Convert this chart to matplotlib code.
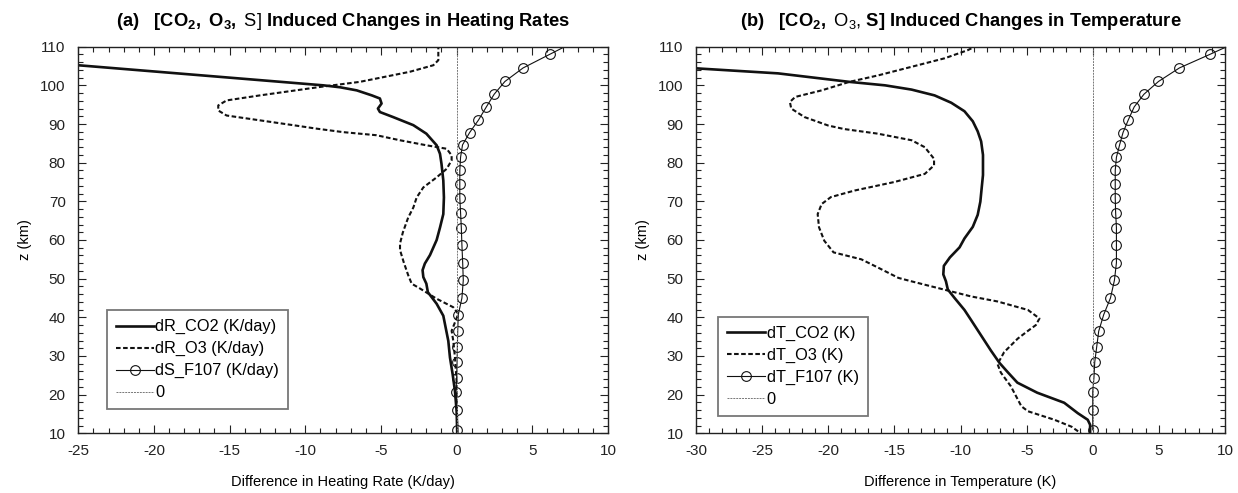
import matplotlib
matplotlib.use("Agg")
import matplotlib.pyplot as plt
from matplotlib.ticker import MultipleLocator

plt.rcParams["font.family"] = ["Liberation Sans", "DejaVu Sans"]
plt.rcParams["mathtext.fontset"] = "custom"
plt.rcParams["mathtext.rm"] = "Liberation Sans"
plt.rcParams["mathtext.bf"] = "Liberation Sans:bold"
plt.rcParams["mathtext.it"] = "Liberation Sans:italic"
plt.rcParams["axes.unicode_minus"] = False

# F10.7 solar term, sampled on model levels (km)
z_f107 = [111.5, 108.0, 104.5, 101.0, 97.7, 94.4, 91.0, 87.8, 84.6, 81.4, 78.0, 74.5, 70.9,
          67.1, 63.2, 58.6, 54.1, 49.6, 45.0, 40.7, 36.4, 32.4, 28.4, 24.4, 20.8, 15.9, 10.9]
dS_f107 = [7.9, 6.14, 4.39, 3.19, 2.48, 1.96, 1.44, 0.86, 0.39, 0.26, 0.21, 0.21, 0.21,
           0.26, 0.31, 0.35, 0.40, 0.44, 0.35, 0.11, 0.07, 0.05, 0.03, 0.0, -0.04, 0.0, 0.0]
dT_f107 = [11.1, 8.85, 6.55, 4.97, 3.87, 3.13, 2.68, 2.29, 2.03, 1.79, 1.70, 1.70, 1.70,
           1.73, 1.79, 1.79, 1.79, 1.64, 1.34, 0.83, 0.45, 0.30, 0.15, 0.09, 0.0, 0.0, 0.0]

# heating rate change from CO2 (K/day)
z_rco2 = [105.8, 105.2, 100.0, 99.5, 98.7, 97.4, 96.6, 95.3, 94.0, 93.1, 91.8, 89.7, 87.5,
          84.5, 82.3, 79.7, 75.4, 71.0, 66.7, 63.2, 60.0, 56.1, 53.9, 52.2, 50.4, 48.7, 46.5,
          43.5, 40.4, 33.9, 29.6, 25.2, 20.9, 15.7, 10.0]
dR_co2 = [-27.0, -25.0, -8.8, -7.7, -6.6, -5.6, -5.07, -4.96, -5.2, -5.07, -4.2, -2.86, -2.0,
          -1.32, -1.1, -1.0, -0.88, -0.84, -0.88, -1.1, -1.32, -1.76, -2.1, -2.25, -2.2, -2.0, -1.9,
          -1.32, -0.88, -0.55, -0.44, -0.26, -0.11, 0.0, 0.04]

# heating rate change from O3 (K/day)
z_ro3 = [110.5, 106.5, 105.2, 103.5, 100.9, 99.6, 97.4, 96.1, 94.8, 93.5, 92.2, 90.95, 89.7,
         88.8, 87.9, 87.1, 85.8, 84.5, 83.6, 81.9, 80.6, 78.4, 76.2, 73.6, 71.0, 68.4, 65.8,
         62.0, 59.1, 57.4, 54.3, 50.9, 48.7, 47.4, 44.8, 42.6, 40.9, 38.7, 36.5, 33.9, 29.6,
         23.5, 10.0]
dR_o3 = [-1.21, -1.21, -1.54, -3.1, -6.4, -9.0, -13.0, -15.2, -15.75, -15.75, -15.2, -13.0, -10.8,
         -9.25, -7.5, -5.3, -3.75, -2.0, -0.66, -0.33, -0.33, -0.66, -1.32, -2.2, -2.64, -2.86, -3.2,
         -3.55, -3.74, -3.74, -3.5, -3.2, -2.97, -2.4, -1.32, -0.22, 0.11, -0.11, -0.33, -0.22, -0.11,
         0.0, 0.04]

# temperature change from CO2 (K)
z_tco2 = [104.6, 104.4, 103.1, 100.9, 100.0, 98.9, 97.4, 95.5, 93.3, 90.7, 88.1, 85.5, 82.0,
          76.8, 73.4, 69.9, 66.5, 63.4, 60.4, 58.1, 55.5, 53.3, 51.1, 49.3, 47.2, 45.0, 41.9,
          39.3, 35.3, 31.4, 28.2, 25.7, 23.1, 20.5, 17.9, 15.2, 13.5, 12.2, 10.0]
dT_co2 = [-31.0, -30.0, -23.8, -18.4, -15.7, -13.7, -11.96, -10.7, -9.7, -9.07, -8.7, -8.44, -8.3,
          -8.3, -8.4, -8.5, -8.7, -9.07, -9.7, -10.07, -10.8, -11.26, -11.3, -11.1, -10.96, -10.45, -9.7,
          -9.2, -8.44, -7.7, -7.05, -6.4, -5.7, -4.2, -2.16, -1.13, -0.38, -0.2, -0.2]

# temperature change from O3 (K)
z_to3 = [110.4, 109.1, 107.0, 104.8, 102.6, 100.9, 98.7, 97.0, 95.7, 94.0, 91.8, 89.6, 88.7,
         87.5, 85.8, 84.0, 81.0, 79.3, 77.1, 75.0, 72.8, 71.1, 69.3, 66.7, 63.3, 59.8, 56.8,
         55.0, 52.8, 50.2, 49.3, 48.0, 46.7, 45.4, 44.1, 41.9, 39.7, 38.0, 36.5, 34.5, 31.0,
         27.9, 25.7, 22.2, 17.0, 15.7, 13.5, 11.7, 10.0]
dT_o3 = [-8.7, -9.45, -11.2, -13.7, -16.2, -18.4, -20.5, -22.5, -22.9, -22.8, -21.8, -20.0, -18.8,
         -16.25, -13.7, -12.7, -12.0, -12.0, -12.7, -15.0, -18.0, -19.8, -20.5, -20.8, -20.7, -20.3, -19.6,
         -17.5, -16.2, -14.7, -13.7, -12.2, -10.7, -9.2, -7.2, -4.9, -4.03, -4.3, -4.9, -5.67, -6.7,
         -7.2, -6.95, -6.2, -5.4, -4.9, -2.9, -1.6, -0.9]

fig = plt.figure(figsize=(12.38, 4.93), dpi=100)
ax1 = fig.add_axes([0.0632, 0.1211, 0.4279, 0.7842])
ax2 = fig.add_axes([0.5622, 0.1211, 0.4273, 0.7842])

solid = dict(color="#111111", lw=1.9)
dashed = dict(color="#111111", lw=1.5, linestyle=(0, (2.2, 1.2)))
circ = dict(color="#111111", lw=0.8, marker="o", markersize=7, mfc="none", mew=0.8)
zero = dict(color="#777777", lw=0.7, linestyle=(0, (2, 1)))


def setup(ax, xmin, xmax, xlabel):
    ax.set_xlim(xmin, xmax)
    ax.set_ylim(10, 110)
    ax.xaxis.set_major_locator(MultipleLocator(5))
    ax.xaxis.set_minor_locator(MultipleLocator(1))
    ax.yaxis.set_major_locator(MultipleLocator(10))
    ax.yaxis.set_minor_locator(MultipleLocator(2))
    ax.tick_params(which="both", direction="in", top=True, right=True,
                   labelsize=11, width=0.8, colors="#222222")
    ax.tick_params(which="major", length=6)
    ax.tick_params(which="minor", length=3.5)
    ax.tick_params(axis="x", which="major", pad=8)
    ax.tick_params(axis="y", which="major", pad=9)
    for s in ax.spines.values():
        s.set_linewidth(1.0)
        s.set_color("#222222")
    ax.set_xlabel(xlabel, fontsize=10.5, labelpad=12)
    ax.set_ylabel("z (km)", fontsize=10.5, labelpad=6)


# (a) heating rates
ax1.plot(dR_co2, z_rco2, label="dR_CO2 (K/day)", **solid)
ax1.plot(dR_o3, z_ro3, label="dR_O3 (K/day)", **dashed)
ax1.plot(dS_f107, z_f107, label="dS_F107 (K/day)", **circ)
ax1.axvline(0, label="0", **zero)
setup(ax1, -25, 10, "Difference in Heating Rate (K/day)")
ax1.set_title(r"$\mathbf{(a)\ \ \ [CO_2,\ O_3,}$ S] $\mathbf{Induced\ Changes\ in\ Heating\ Rates}$",
              fontsize=13.2, pad=15)

# (b) temperature
ax2.plot(dT_co2, z_tco2, label="dT_CO2 (K)", **solid)
ax2.plot(dT_o3, z_to3, label="dT_O3 (K)", **dashed)
ax2.plot(dT_f107, z_f107, label="dT_F107 (K)", **circ)
ax2.axvline(0, label="0", **zero)
setup(ax2, -30, 10, "Difference in Temperature (K)")
ax2.set_title(r"$\mathbf{(b)\ \ \ [CO_2,}$ O$_3$, $\mathbf{S]\ Induced\ Changes\ in\ Temperature}$",
              fontsize=13.2, pad=15)

for ax, anchor in [(ax1, (0.054, 0.062)), (ax2, (0.042, 0.045))]:
    leg = ax.legend(loc="lower left", bbox_to_anchor=anchor, borderaxespad=0,
                    fontsize=11.8, handlelength=2.3, handletextpad=0.1,
                    labelspacing=0.42, borderpad=0.55, fancybox=False, framealpha=1)
    leg.get_frame().set_edgecolor("#777777")
    leg.get_frame().set_linewidth(1.3)

fig.savefig("out.png", dpi=100)
